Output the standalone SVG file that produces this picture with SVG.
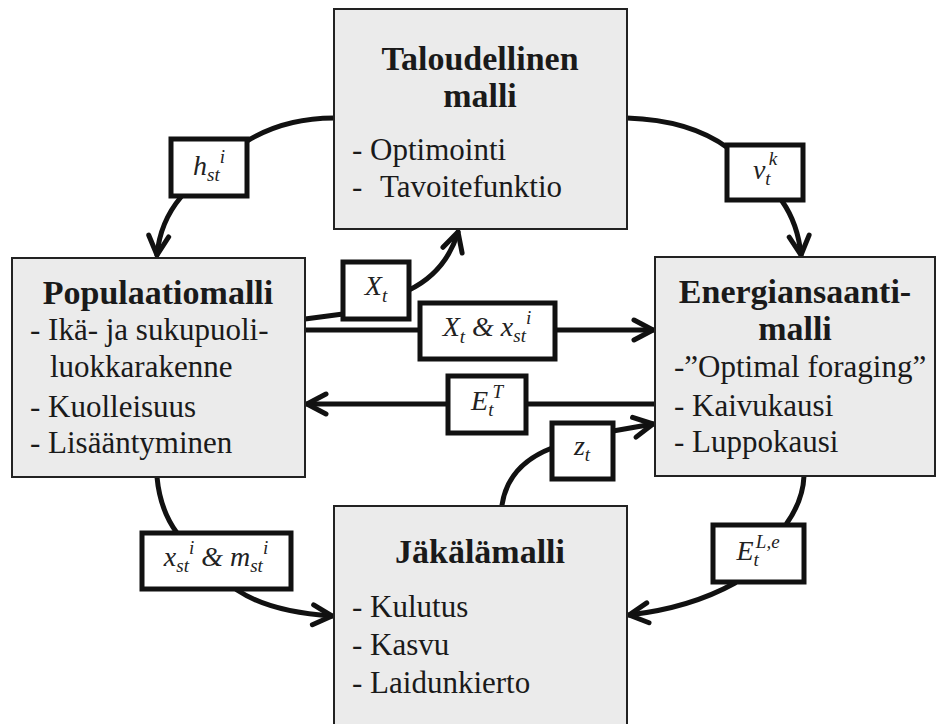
<svg xmlns="http://www.w3.org/2000/svg" width="937" height="724" viewBox="0 0 937 724">
<defs>
<style>
.node{fill:#ebebeb;stroke:#222;stroke-width:2}
.title{font-family:'Liberation Serif','Times New Roman',serif;font-weight:bold;font-size:34px;fill:#1a1a1a;text-anchor:middle}
.body{font-family:'Liberation Serif','Times New Roman',serif;font-size:31px;fill:#1a1a1a}
.conn{fill:none;stroke:#111;stroke-width:5;stroke-linecap:round}
.lbox{fill:#fff;stroke:#111;stroke-width:5}
.lt{font-family:'Liberation Serif','Times New Roman',serif;font-style:italic;font-size:28px;fill:#222;text-anchor:middle}
.s{font-size:19px}
</style>
<marker id="arr" markerUnits="userSpaceOnUse" markerWidth="36" markerHeight="36" viewBox="-26 -18 32 36" refX="0" refY="0" orient="auto">
<path d="M-19,-10 L0,0 L-19,10" fill="none" stroke="#111" stroke-width="5" stroke-linejoin="round" stroke-linecap="round"/>
</marker>
</defs>
<rect width="937" height="724" fill="#fff"/>

<g id="connectors">
<path class="conn" d="M334,118 Q285,118 247,141"/>
<path class="conn" d="M181,197 Q160,222 157,255" marker-end="url(#arr)"/>
<path class="conn" d="M627,118 Q690,120 728,148"/>
<path class="conn" d="M782,201 Q798,224 801,255" marker-end="url(#arr)"/>
<path class="conn" d="M305,319 L343,314"/>
<path class="conn" d="M409,290 Q446,272 458,232" marker-end="url(#arr)"/>
<path class="conn" d="M305,330 L653,330" marker-end="url(#arr)"/>
<path class="conn" d="M655,404 L307,404" marker-end="url(#arr)"/>
<path class="conn" d="M502,505 Q508,465 552,448"/>
<path class="conn" d="M613,431 L653,424" marker-end="url(#arr)"/>
<path class="conn" d="M157,477 Q160,510 177,533"/>
<path class="conn" d="M237,590 Q270,612 332,616" marker-end="url(#arr)"/>
<path class="conn" d="M804,476 Q803,500 787,523"/>
<path class="conn" d="M735,583 Q690,608 629,615" marker-end="url(#arr)"/>
</g>

<g id="node-taloudellinen">
<rect class="node" x="334" y="9" width="293" height="220"/>
<text class="title" x="480" y="70">Taloudellinen</text>
<text class="title" x="480" y="107">malli</text>
<text class="body" x="352" y="160">- Optimointi</text>
<text class="body" x="352" y="197">-<tspan x="380">Tavoitefunktio</tspan></text>
</g>

<g id="node-populaatiomalli">
<rect class="node" x="12" y="258" width="293" height="219"/>
<text class="title" x="158" y="304">Populaatiomalli</text>
<text class="body" x="30" y="340">- Ikä- ja sukupuoli-</text>
<text class="body" x="50" y="377">luokkarakenne</text>
<text class="body" x="30" y="417">- Kuolleisuus</text>
<text class="body" x="30" y="453">- Lisääntyminen</text>
</g>

<g id="node-energiansaantimalli">
<rect class="node" x="655" y="257" width="280" height="219"/>
<text class="title" x="795" y="303">Energiansaanti-</text>
<text class="title" x="795" y="340">malli</text>
<text class="body" x="674" y="377">-”Optimal foraging”</text>
<text class="body" x="674" y="416">- Kaivukausi</text>
<text class="body" x="674" y="452">- Luppokausi</text>
</g>

<g id="node-jakalamalli">
<rect class="node" x="334" y="506" width="293" height="230"/>
<text class="title" x="480" y="563">Jäkälämalli</text>
<text class="body" x="352" y="617">- Kulutus</text>
<text class="body" x="352" y="655">- Kasvu</text>
<text class="body" x="352" y="693">- Laidunkierto</text>
</g>

<g id="label-h">
<rect class="lbox" x="171" y="139" width="76" height="57"/>
<text class="lt" x="209" y="175">h<tspan class="s" dy="6">st</tspan><tspan class="s" dy="-18">i</tspan></text>
</g>
<g id="label-v">
<rect class="lbox" x="727" y="145" width="76" height="55"/>
<text class="lt" x="765" y="179">v<tspan class="s" dy="6">t</tspan><tspan class="s" dx="-2" dy="-20">k</tspan></text>
</g>
<g id="label-X">
<rect class="lbox" x="343" y="262" width="66" height="57"/>
<text class="lt" x="376" y="295">X<tspan class="s" dy="7">t</tspan></text>
</g>
<g id="label-Xx">
<rect class="lbox" x="420" y="303" width="135" height="56"/>
<text class="lt" x="487" y="336">X<tspan class="s" dy="7">t</tspan><tspan dy="-7"> &amp; x</tspan><tspan class="s" dy="6">st</tspan><tspan class="s" dy="-18">i</tspan></text>
</g>
<g id="label-ET">
<rect class="lbox" x="448" y="376" width="78" height="57"/>
<text class="lt" x="487" y="410">E<tspan class="s" dy="6">t</tspan><tspan class="s" dx="-1" dy="-18">T</tspan></text>
</g>
<g id="label-z">
<rect class="lbox" x="552" y="423" width="61" height="56"/>
<text class="lt" x="582" y="455">z<tspan class="s" dy="6">t</tspan></text>
</g>
<g id="label-xm">
<rect class="lbox" x="142" y="533" width="149" height="56"/>
<text class="lt" x="216" y="566">x<tspan class="s" dy="6">st</tspan><tspan class="s" dy="-18">i</tspan><tspan dy="12"> &amp; m</tspan><tspan class="s" dy="6">st</tspan><tspan class="s" dy="-18">i</tspan></text>
</g>
<g id="label-ELe">
<rect class="lbox" x="713" y="525" width="91" height="57"/>
<text class="lt" x="758" y="560">E<tspan class="s" dy="6">t</tspan><tspan class="s" dx="-3" dy="-18">L,e</tspan></text>
</g>
</svg>
